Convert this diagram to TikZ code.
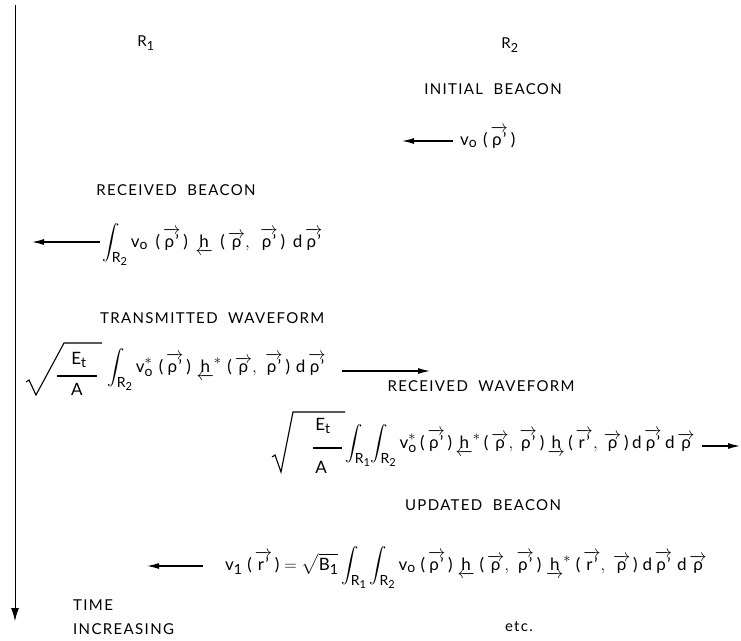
\documentclass[tikz,border=0pt]{standalone}
\usepackage{amsmath}
\usepackage{fontspec}
\setmainfont{Lato}[LetterSpace=9]
\usetikzlibrary{arrows.meta}
% large indices, as in typewritten formulas
\DeclareMathSizes{15}{15}{12.5}{10}
\DeclareMathSizes{17}{17}{14}{11}

% sans letters inside formulas
\newcommand\tx[1]{\text{#1}}
\newcommand\vp[1]{\overrightarrow{\text{#1}}}
\newcommand\hback{\underleftarrow{\text{h}}}
\newcommand\hfwd{\underrightarrow{\text{h}}}
\newcommand\Rg[1]{\text{R}_{\text{#1}}}
\newmuskip\gpamt \gpamt=6mu
\newcommand\gp{\mskip\gpamt}
\newcommand\lp{\text{(}\mskip 3mu}
\newcommand\rp{\mskip 3mu\text{)}}

\begin{document}
\begin{tikzpicture}[x=1pt,y=-1pt,
  font=\fontsize{15}{17}\selectfont,
  label/.style={inner sep=0pt},
  expr/.style={inner sep=0pt, anchor=base west, font=\fontsize{17}{19}\selectfont},
  fracpart/.style={inner sep=0pt, anchor=base, font=\fontsize{17}{19}\selectfont},
  rule/.style={line width=1.1pt},
  radical/.style={line width=1.1pt, line join=miter},
  flow/.style={line width=1.1pt, -{Latex[length=12pt,width=6pt]}}]
\useasboundingbox (0,0) rectangle (741,640);

% time axis
\coordinate (ttop) at (15,5);
\coordinate (tbot) at (15,621);
\draw[line width=1pt, -{Latex[length=13pt,width=8pt]}] (ttop) -- (tbot);
\node[label, anchor=west] (time) at (73,605) {TIME};
\node[label, anchor=west] (incr) at (73,629) {INCREASING};

% regions
\node[label] (r1) at (146,43) {$\Rg{1}$};
\node[label] (r2) at (510,45) {$\Rg{2}$};

% initial beacon
\node[label] (ib) at (493,89) {INITIAL\ \ BEACON};
\node[expr] (e1) at (460,145) {$\tx{v}_{\tx{o}}\gp\lp\vp{ρ'}\rp$};
\coordinate (a1) at (402,141);
\draw[flow] ([xshift=-7pt]e1.west |- a1) -- (a1);

% received beacon
\node[label] (rb) at (176,190) {RECEIVED\ \ BEACON};
\node[expr] (e2) at (102,247) {\gpamt=8mu$\displaystyle\int_{\Rg{2}}\tx{v}_{\tx{o}}\gp\lp\vp{ρ'}\rp\gp\hback\gp\lp\vp{ρ},\gp\vp{ρ'}\rp\gp\tx{d}\,\vp{ρ'}$};
\coordinate (a2) at (32,242);
\draw[flow] ([xshift=-2pt]e2.west |- a2) -- (a2);

% transmitted waveform: root of E_t / A, then the integral
\node[label, anchor=west] (tw) at (100,318) {TRANSMITTED\ \ WAVEFORM};
\node[fracpart] (n3) at (79,364) {$\tx{E}_{\tx{t}}$};
\node[fracpart] (d3) at (77,395) {A};
\draw[rule] (57,376) -- (97,376);
\draw[radical] (26,382) -- (29,380) -- (36,395) -- (64,343) -- (102,343);
\node[expr] (e3) at (107,372) {\gpamt=6mu$\displaystyle\int_{\Rg{2}}\tx{v}^{*}_{\tx{o}}\gp\lp\vp{ρ'}\rp\gp\hback^{*}\gp\lp\vp{ρ},\gp\vp{ρ'}\rp\gp\tx{d}\,\vp{ρ'}$};
\coordinate (a3) at (430,371);
\draw[flow] ([xshift=16pt]e3.east |- a3) -- (a3);

% received waveform
\node[label] (rw) at (481,386) {RECEIVED\ \ WAVEFORM};
\node[fracpart] (n4) at (323,430) {$\tx{E}_{\tx{t}}$};
\node[fracpart] (d4) at (321,473) {A};
\draw[rule] (313,448) -- (342,448);
\draw[radical] (272,457) -- (275,455) -- (281,472) -- (293,412) -- (345,412);
\node[expr] (e4) at (345,448) {\gpamt=3.5mu$\displaystyle\int_{\Rg{1}}\!\int_{\Rg{2}}\tx{v}^{*}_{\tx{o}}\gp\lp\vp{ρ'}\rp\gp\hback^{*}\gp\lp\vp{ρ},\gp\vp{ρ'}\rp\gp\hfwd\gp\lp\vp{r'},\gp\vp{ρ}\rp\gp\tx{d}\,\vp{ρ'}\gp\tx{d}\,\vp{ρ}$};
\coordinate (a4) at (740,446);
\draw[flow] ([xshift=7pt]e4.east |- a4) -- (a4);

% updated beacon
\node[label] (ub) at (483,505) {UPDATED\ \ BEACON};
\node[expr] (e5) at (225,570) {\gpamt=5mu$\displaystyle\tx{v}_{\tx{1}}\gp\lp\vp{r'}\rp=\sqrt{\tx{B}_{\tx{1}}}\int_{\Rg{1}}\int_{\Rg{2}}\tx{v}_{\tx{o}}\gp\lp\vp{ρ'}\rp\gp\hback\gp\lp\vp{ρ},\gp\vp{ρ'}\rp\gp\hfwd^{*}\gp\lp\vp{r'},\gp\vp{ρ}\rp\gp\tx{d}\,\vp{ρ'}\gp\tx{d}\,\vp{ρ}$};
\coordinate (a5) at (147,566);
\draw[flow] ([xshift=-22pt]e5.west |- a5) -- (a5);

\node[label] (etc) at (519,627) {etc.};
\end{tikzpicture}
\end{document}
